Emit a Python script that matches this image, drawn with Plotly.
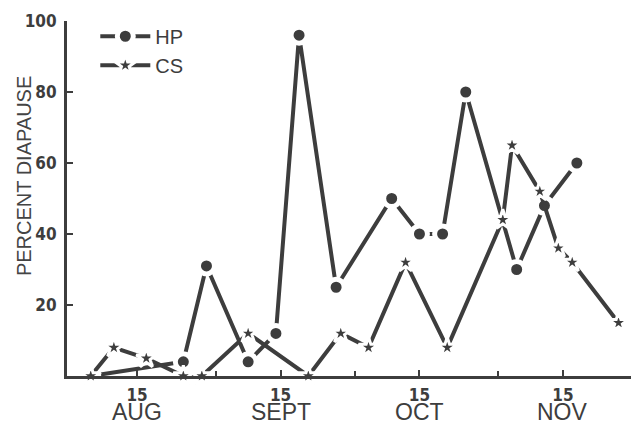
import plotly.graph_objects as go

# ---- data ----
hp_dates = ["1975-08-05", "1975-08-25", "1975-08-30", "1975-09-08", "1975-09-14",
            "1975-09-19", "1975-09-27", "1975-10-09", "1975-10-15", "1975-10-20",
            "1975-10-25", "1975-11-05", "1975-11-11", "1975-11-18"]
hp_values = [0, 4, 31, 4, 12, 96, 25, 50, 40, 40, 80, 30, 48, 60]

cs_dates = ["1975-08-05", "1975-08-10", "1975-08-17", "1975-08-25", "1975-08-29",
            "1975-09-08", "1975-09-21", "1975-09-28", "1975-10-04", "1975-10-12",
            "1975-10-21", "1975-11-02", "1975-11-04", "1975-11-10", "1975-11-14",
            "1975-11-17", "1975-11-27"]
cs_values = [0, 8, 5, 0, 0, 12, 0, 12, 8, 32, 8, 44, 65, 52, 36, 32, 15]

x_tick_vals = ["1975-08-15", "1975-09-15", "1975-10-15", "1975-11-15"]
x_day_labels = ["15", "15", "15", "15"]
month_labels = ["AUG", "SEPT", "OCT", "NOV"]
x_minor_ticks = ["1975-09-01", "1975-10-01", "1975-11-01"]
y_tick_vals = [20, 40, 60, 80, 100]
y_tick_text = ["20", "40", "60", "80", "100"]
y_title = "PERCENT DIAPAUSE"

INK = "#3d3d3d"
BG = "#ffffff"
NARROW = "Liberation Sans Narrow, DejaVu Sans Condensed, sans-serif"
SANS = "Liberation Sans, Arial, sans-serif"

fig = go.Figure()
fig.add_trace(go.Scatter(
    x=hp_dates, y=hp_values, name="HP", mode="lines+markers",
    line=dict(color=INK, width=4),
    marker=dict(symbol="circle", size=16, color=INK, line=dict(color=BG, width=5)),
    cliponaxis=False,
))
fig.add_trace(go.Scatter(
    x=cs_dates, y=cs_values, name="CS", mode="lines+markers",
    line=dict(color=INK, width=4),
    marker=dict(symbol="star", size=15, color=INK, line=dict(color=BG, width=3)),
    cliponaxis=False,
))

# month names under the "15" tick labels, placed on the x axis scale
for xv, m in zip(x_tick_vals, month_labels):
    fig.add_annotation(x=xv, xref="x", y=0, yref="paper", yshift=-36,
                       text=m, showarrow=False, xanchor="center", yanchor="middle",
                       font=dict(family=SANS, size=23, color=INK))

# rotated y-axis title
fig.add_annotation(x=-0.076, xref="paper", y=0.563, yref="paper",
                   text=y_title, textangle=-90, showarrow=False,
                   xanchor="center", yanchor="middle",
                   font=dict(family=SANS, size=20, color="#444444"))

# the page body has an 8px margin, so the figure is 8px smaller than the window
fig.update_layout(
    width=631, height=416,
    margin=dict(l=59, r=6, t=13, b=48, autoexpand=False),
    paper_bgcolor=BG, plot_bgcolor=BG,
    font=dict(family=SANS, color=INK),
    showlegend=True,
    legend=dict(
        x=0.05, y=1.012, xanchor="left", yanchor="top",
        bgcolor="rgba(0,0,0,0)", borderwidth=0,
        font=dict(family=SANS, size=20, color=INK),
        itemwidth=50, tracegroupgap=0,
    ),
    xaxis=dict(
        type="date", automargin=False,
        range=["1975-07-30 21:00", "1975-11-30 03:00"],
        tickmode="array", tickvals=x_tick_vals, ticktext=x_day_labels,
        ticks="inside", ticklen=6, tickwidth=2, tickcolor=INK,
        ticklabelstandoff=2,
        tickfont=dict(family=NARROW, size=17, color=INK, weight="bold"),
        minor=dict(tickmode="array", tickvals=x_minor_ticks, ticks="inside",
                   ticklen=5, tickwidth=2, tickcolor=INK),
        showline=True, linecolor=INK, linewidth=3,
        showgrid=False, zeroline=False,
    ),
    yaxis=dict(
        range=[0, 100], automargin=False,
        tickmode="array", tickvals=y_tick_vals, ticktext=y_tick_text,
        ticks="inside", ticklen=6, tickwidth=2, tickcolor=INK,
        ticklabelstandoff=4,
        tickfont=dict(family=NARROW, size=17, color=INK, weight="bold"),
        showline=True, linecolor=INK, linewidth=3,
        showgrid=False, zeroline=False,
    ),
)

fig.write_html("out.html")
